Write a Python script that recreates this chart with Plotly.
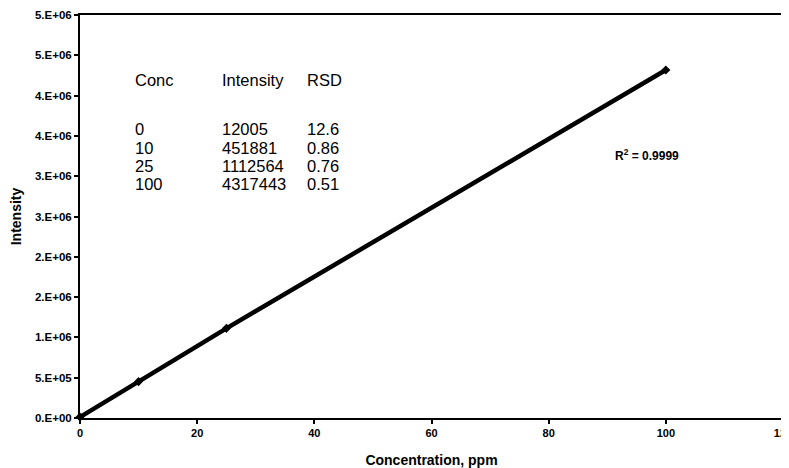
import plotly.graph_objects as go

conc = [0, 10, 25, 100]
intensity = [12005, 451881, 1112564, 4317443]
rsd = ["12.6", "0.86", "0.76", "0.51"]

y_tickvals = [0, 5e5, 1e6, 1.5e6, 2e6, 2.5e6, 3e6, 3.5e6, 4e6, 4.5e6, 5e6]
y_ticktext = ["0.E+00", "5.E+05", "1.E+06", "2.E+06", "2.E+06", "3.E+06",
              "3.E+06", "4.E+06", "4.E+06", "5.E+06", "5.E+06"]
x_tickvals = [0, 20, 40, 60, 80, 100, 120]
r2_text = "R<sup>2</sup> = 0.9999"

FONT = "Liberation Sans, Arial, sans-serif"

fig = go.Figure()
fig.add_trace(go.Scatter(
    x=conc, y=intensity, mode="lines+markers",
    line=dict(color="black", width=4.5),
    marker=dict(symbol="diamond", size=7, color="black"),
    showlegend=False, cliponaxis=False,
))

ann = []
cols_x = [0.075, 0.199, 0.320]
headers = ["Conc", "Intensity", "RSD"]
for cx, h in zip(cols_x, headers):
    ann.append(dict(x=cx, y=0.839, xref="paper", yref="paper", text=h,
                    showarrow=False, xanchor="left", yanchor="middle",
                    font=dict(family=FONT, size=16.5, color="black")))
row_y = [0.717, 0.670, 0.625, 0.581]
for i in range(len(conc)):
    vals = [str(conc[i]), str(intensity[i]), rsd[i]]
    for cx, v in zip(cols_x, vals):
        ann.append(dict(x=cx, y=row_y[i], xref="paper", yref="paper", text=v,
                        showarrow=False, xanchor="left", yanchor="middle",
                        font=dict(family=FONT, size=16.5, color="black")))
ann.append(dict(x=0.758, y=0.653, xref="paper", yref="paper", text=r2_text,
                showarrow=False, xanchor="left", yanchor="middle",
                font=dict(family=FONT, size=12, color="black", weight="bold")))

# page body adds an 8px offset; margins compensate so the plot area
# lands at x 80..783, y 15..418 in the window
fig.update_layout(
    width=789, height=468,
    margin=dict(l=72, r=14, t=7, b=58),
    paper_bgcolor="white", plot_bgcolor="white",
    font=dict(family=FONT, color="black"),
    annotations=ann,
    xaxis=dict(range=[0, 120], tickvals=x_tickvals, showgrid=False, zeroline=False,
               automargin=False,
               showline=True, linecolor="black", linewidth=2, mirror=True,
               ticks="outside", ticklen=4, tickcolor="black", tickwidth=1.5,
               tickfont=dict(family=FONT, size=11, weight="bold"),
               title=dict(text="Concentration, ppm", standoff=17,
                          font=dict(family=FONT, size=14, weight="bold"))),
    yaxis=dict(range=[0, 5e6], tickvals=y_tickvals, ticktext=y_ticktext,
               showgrid=False, zeroline=False, automargin=False,
               showline=True, linecolor="black", linewidth=2, mirror=True,
               ticks="outside", ticklen=4, tickcolor="black", tickwidth=1.5,
               tickfont=dict(family=FONT, size=11.5, weight="bold"),
               title=dict(text="Intensity", standoff=12,
                          font=dict(family=FONT, size=14, weight="bold"))),
)

fig.write_html("out.html")
